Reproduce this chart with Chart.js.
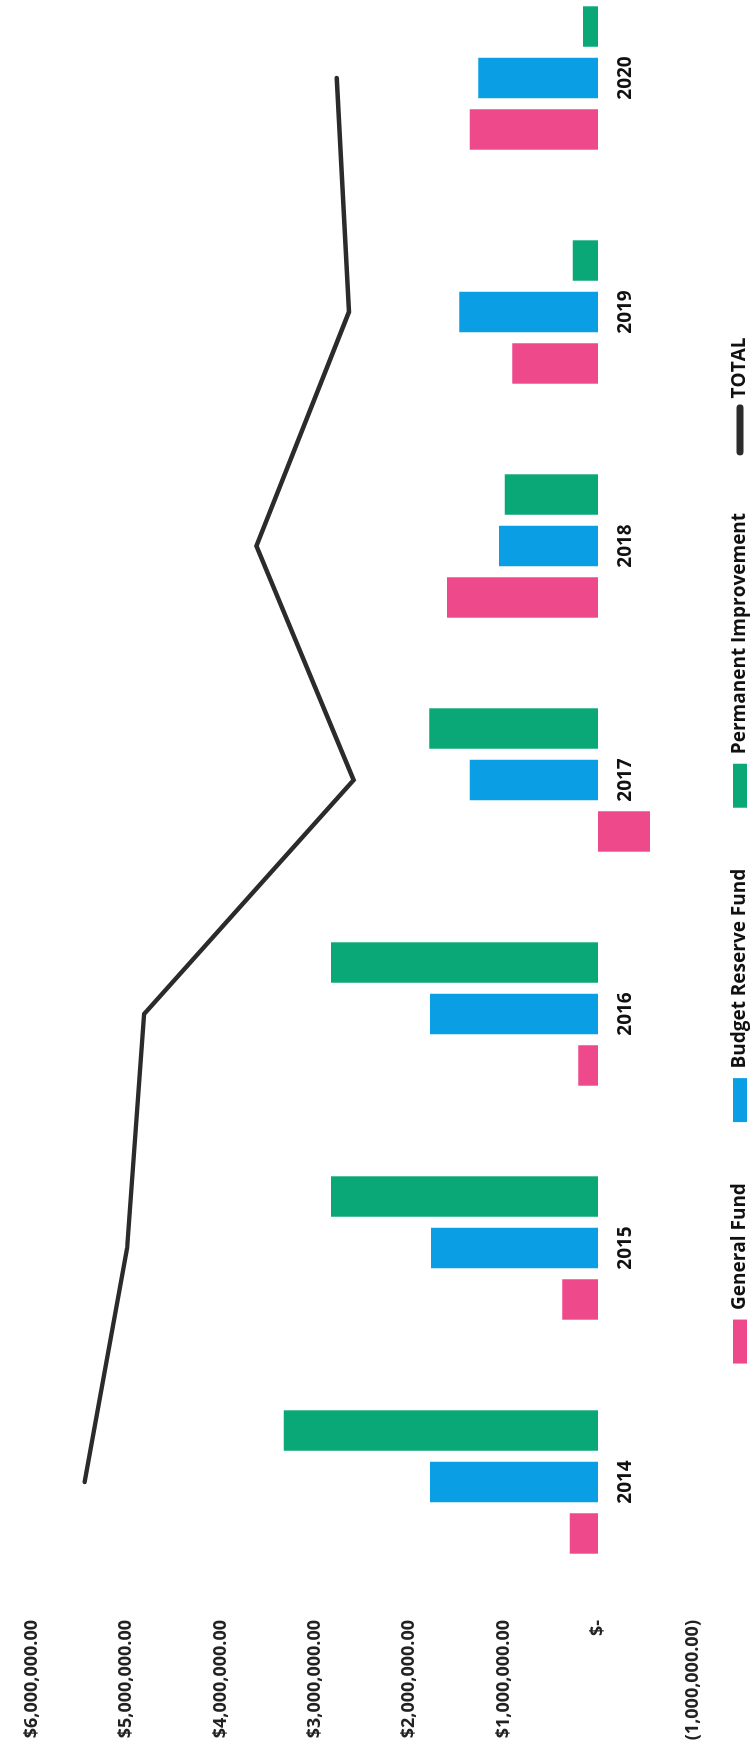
<!DOCTYPE html>
<html>
<head>
<meta charset="utf-8">
<script src="https://cdn.jsdelivr.net/npm/chart.js@4.4.1/dist/chart.umd.min.js"></script>
<style>
  html, body { margin: 0; padding: 0; background: #ffffff; }
  body { width: 754px; height: 1764px; overflow: hidden; position: relative; }
  #wrap {
    position: absolute; left: 0; top: 0;
    width: 1828px; height: 754px;
    transform-origin: 0 0;
    transform: translateY(1764px) rotate(-90deg);
    background: #ffffff;
  }
</style>
</head>
<body>
<div id="wrap"><canvas id="c"></canvas></div>
<script>
// ---- data ----
const categories = ['2014', '2015', '2016', '2017', '2018', '2019', '2020'];
const generalFund = [300000, 380000, 210000, -550000, 1600000, 910000, 1360000];
const budgetReserveFund = [1780000, 1770000, 1780000, 1360000, 1050000, 1470000, 1270000];
const permanentImprovement = [3330000, 2830000, 2830000, 1790000, 990000, 270000, 160000];
const total = [5440000, 4990000, 4810000, 2590000, 3620000, 2640000, 2770000];
const seriesNames = ['General Fund', 'Budget Reserve Fund', 'Permanent Improvement', 'TOTAL'];
const valueTicks = [-1000000, 0, 1000000, 2000000, 3000000, 4000000, 5000000, 6000000];

function fmtMoney(v) {
  if (v === 0) return '$-';
  const s = Math.abs(v).toLocaleString('en-US', { minimumFractionDigits: 2, maximumFractionDigits: 2 });
  return v < 0 ? '$(' + s + ')' : '$' + s;
}

const FONT = "'Open Sans', 'DejaVu Sans', sans-serif";
const LEGEND_PAD = 61;
const LEGEND_CENTER = 740;
const LEGEND_FONT = 19;

// places the legend row at the reference's position across the chart
const legendRow = {
  id: 'legendRow',
  beforeDraw(chart) {
    const lg = chart.legend;
    if (lg) lg.top = LEGEND_CENTER - LEGEND_FONT / 2 - LEGEND_PAD;
  }
};

new Chart(document.getElementById('c'), {
  data: {
    labels: categories,
    datasets: [
      { type: 'bar', label: seriesNames[0], data: generalFund, backgroundColor: '#EE4A8B',
        categoryPercentage: 0.66, barPercentage: 0.786, borderWidth: 0 },
      { type: 'bar', label: seriesNames[1], data: budgetReserveFund, backgroundColor: '#0A9FE4',
        categoryPercentage: 0.66, barPercentage: 0.786, borderWidth: 0 },
      { type: 'bar', label: seriesNames[2], data: permanentImprovement, backgroundColor: '#0BA877',
        categoryPercentage: 0.66, barPercentage: 0.786, borderWidth: 0 },
      { type: 'line', label: seriesNames[3], data: total, borderColor: '#2B2B2B', backgroundColor: '#2B2B2B',
        borderWidth: 4.5, pointRadius: 0, tension: 0, borderCapStyle: 'round', borderJoinStyle: 'miter' }
    ]
  },
  plugins: [legendRow],
  options: {
    responsive: true,
    maintainAspectRatio: false,
    animation: false,
    events: [],
    layout: { padding: { left: 24, right: 25, top: 22.7, bottom: 0 } },
    scales: {
      x: {
        type: 'category',
        position: { y: 0 },
        offset: true,
        grid: { display: false, drawTicks: false },
        border: { display: false },
        ticks: { color: '#111111', padding: 16, font: { family: FONT, size: 19, weight: 'bold' } }
      },
      y: {
        type: 'linear',
        min: -1000000,
        max: 6000000,
        afterBuildTicks(scale) { scale.ticks = valueTicks.map(v => ({ value: v })); },
        afterFit(scale) { scale.width = 141; },
        grid: { display: false, drawTicks: false },
        border: { display: false },
        ticks: { color: '#222222', padding: 21, callback: (v) => fmtMoney(v),
                 font: { family: FONT, size: 18, weight: 'bold' } }
      }
    },
    plugins: {
      tooltip: { enabled: false },
      legend: {
        position: 'bottom',
        maxHeight: 61.5,
        labels: {
          usePointStyle: true,
          pointStyleWidth: 44,
          boxHeight: 14,
          padding: LEGEND_PAD,
          color: '#111111',
          font: { family: FONT, size: LEGEND_FONT, weight: 'bold' },
          generateLabels(chart) {
            const items = Chart.defaults.plugins.legend.labels.generateLabels(chart);
            items.forEach(it => {
              if (it.datasetIndex === 3) {
                it.pointStyle = 'line'; it.lineWidth = 7; it.strokeStyle = '#2B2B2B'; it.lineCap = 'round';
              } else {
                it.pointStyle = 'rect'; it.lineWidth = 0;
              }
            });
            return items;
          }
        }
      }
    }
  }
});
</script>
</body>
</html>
